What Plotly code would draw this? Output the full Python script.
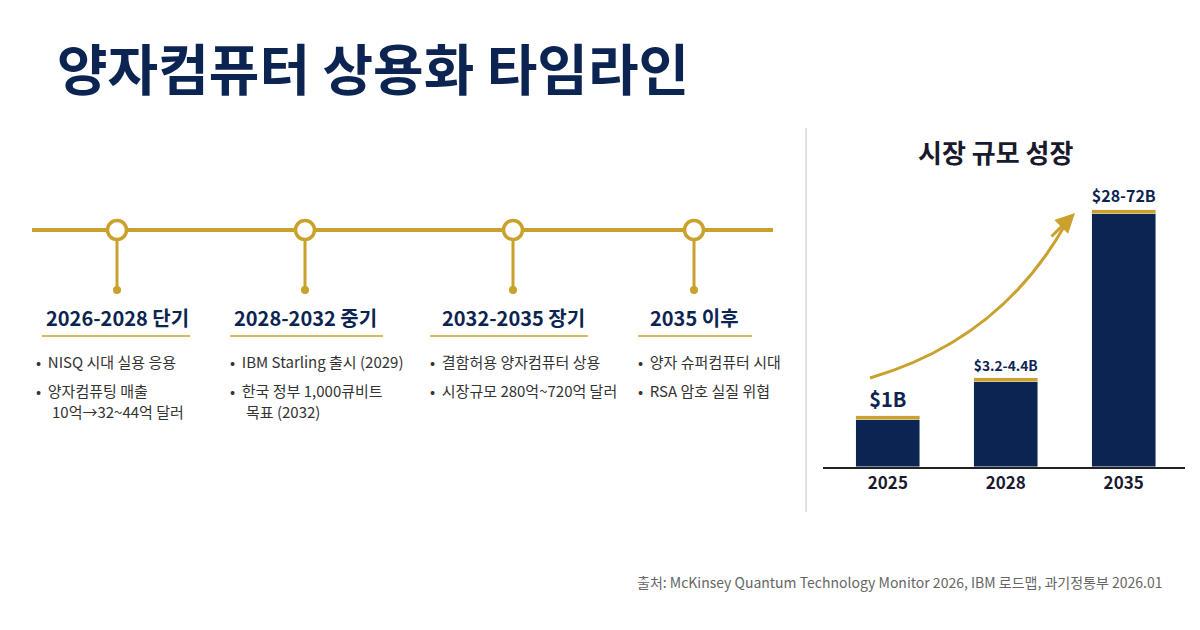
import plotly.graph_objects as go

NAVY = "#0c2451"
GOLD = "#c9a12c"
FONT = "Noto Sans CJK KR"
OFF = 8  # 페이지 기본 여백 보정

# --- 데이터 ---
years = ["2025", "2028", "2035"]
bar_labels = ["$1B", "$3.2-4.4B", "$28-72B"]
bar_heights = [1.10, 1.92, 5.55]   # 화면상 막대 높이 (라벨은 범위값)
cap = 0.09

phases = ["2026-2028 단기", "2028-2032 중기", "2032-2035 장기", "2035 이후"]
phase_x = [117, 305, 513, 694]
bullets = [
    ["NISQ 시대 실용 응용", "양자컴퓨팅 매출\n10억→32~44억 달러"],
    ["IBM Starling 출시 (2029)", "한국 정부 1,000큐비트\n목표 (2032)"],
    ["결함허용 양자컴퓨터 상용", "시장규모 280억~720억 달러"],
    ["양자 슈퍼컴퓨터 시대", "RSA 암호 실질 위협"],
]
bullet_x = [34, 228, 428, 636]
underline = [(42, 190), (230, 383), (430, 588), (638, 752)]

fig = go.Figure()

fig.add_bar(x=years, y=[h - cap for h in bar_heights], marker_color=NAVY, width=0.54,
            xaxis="x", yaxis="y", hoverinfo="skip")
fig.add_bar(x=years, y=[cap] * 3, marker_color=GOLD, width=0.54,
            text=[f"<b>{t}</b>" for t in bar_labels],
            textposition="outside", textfont=dict(size=20, color=NAVY, family=FONT),
            cliponaxis=False, xaxis="x", yaxis="y", hoverinfo="skip")

fig.add_scatter(x=[32, 773], y=[230, 230], mode="lines", line=dict(color=GOLD, width=4),
                xaxis="x2", yaxis="y2", hoverinfo="skip")
for px in phase_x:
    fig.add_scatter(x=[px, px], y=[240, 290], mode="lines", line=dict(color=GOLD, width=3),
                    xaxis="x2", yaxis="y2", hoverinfo="skip")
fig.add_scatter(x=phase_x, y=[290] * 4, mode="markers", marker=dict(color=GOLD, size=8),
                xaxis="x2", yaxis="y2", hoverinfo="skip")
fig.add_scatter(x=phase_x, y=[230] * 4, mode="markers",
                marker=dict(color="white", size=19, line=dict(color=GOLD, width=3.5)),
                xaxis="x2", yaxis="y2", hoverinfo="skip")
for (a, b) in underline:
    fig.add_scatter(x=[a, b], y=[336, 336], mode="lines", line=dict(color=GOLD, width=1.5),
                    xaxis="x2", yaxis="y2", hoverinfo="skip")

ann = []
for px, t in zip(phase_x, phases):
    ann.append(dict(x=px, y=317, xref="x2", yref="y2", text=f"<b>{t}</b>", showarrow=False,
                    font=dict(size=20, color=NAVY, family=FONT)))
for bx, items in zip(bullet_x, bullets):
    y = 361
    for it in items:
        lines = it.split("\n")
        ann.append(dict(x=bx, y=y, xref="x2", yref="y2", xanchor="left", showarrow=False,
                        text="•  " + lines[0], font=dict(size=15, color="#333", family=FONT)))
        for extra in lines[1:]:
            y += 21
            ann.append(dict(x=bx + 16, y=y, xref="x2", yref="y2", xanchor="left", showarrow=False,
                            text=extra, font=dict(size=15, color="#333", family=FONT)))
        y += 29

ann += [
    dict(x=55, y=66, xref="x2", yref="y2", xanchor="left", showarrow=False,
         text="<b>양자컴퓨터 상용화 타임라인</b>", font=dict(size=55, color=NAVY, family=FONT)),
    dict(x=995, y=151, xref="x2", yref="y2", showarrow=False,
         text="<b>시장 규모 성장</b>", font=dict(size=26, color="#1a1a2e", family=FONT)),
    dict(x=1165, y=582, xref="x2", yref="y2", xanchor="right", showarrow=False,
         text="출처: McKinsey Quantum Technology Monitor 2026, IBM 로드맵, 과기정통부 2026.01",
         font=dict(size=14, color="#666", family=FONT)),
    dict(x=1075, y=213, ax=1050, ay=238, xref="x2", yref="y2", axref="x2", ayref="y2",
         showarrow=True, arrowhead=2, arrowsize=1.3, arrowwidth=3, arrowcolor=GOLD, text=""),
]

shapes = [
    dict(type="line", xref="x2", yref="y2", x0=806, x1=806, y0=128, y1=512,
         line=dict(color="#d8d8d8", width=1.5)),
    dict(type="path", xref="x2", yref="y2", path="M 870,378 Q 1000,340 1065,225",
         line=dict(color=GOLD, width=3)),
]

fig.update_layout(
    width=1200, height=630, margin=dict(l=0, r=0, t=0, b=0),
    paper_bgcolor="white", plot_bgcolor="rgba(0,0,0,0)",
    barmode="stack", showlegend=False, bargap=0,
    font=dict(family=FONT),
    xaxis=dict(domain=[(823 - OFF) / 1200, (1185 - OFF) / 1200], range=[-0.55, 2.52], showgrid=False,
               showline=True, linecolor="#222", linewidth=2, ticks="",
               tickprefix="<b>", ticksuffix="</b>",
               tickfont=dict(size=17, color="#1a1a2e", family=FONT), fixedrange=True),
    yaxis=dict(domain=[1 - (467 - OFF) / 630, 1 - (189 - OFF) / 630], range=[0, 6], visible=False),
    xaxis2=dict(domain=[0, 1], range=[OFF, 1200 + OFF], visible=False, anchor="y2"),
    yaxis2=dict(domain=[0, 1], range=[630 + OFF, OFF], visible=False, anchor="x2"),
    annotations=ann, shapes=shapes,
)

fig.write_html("out.html")
